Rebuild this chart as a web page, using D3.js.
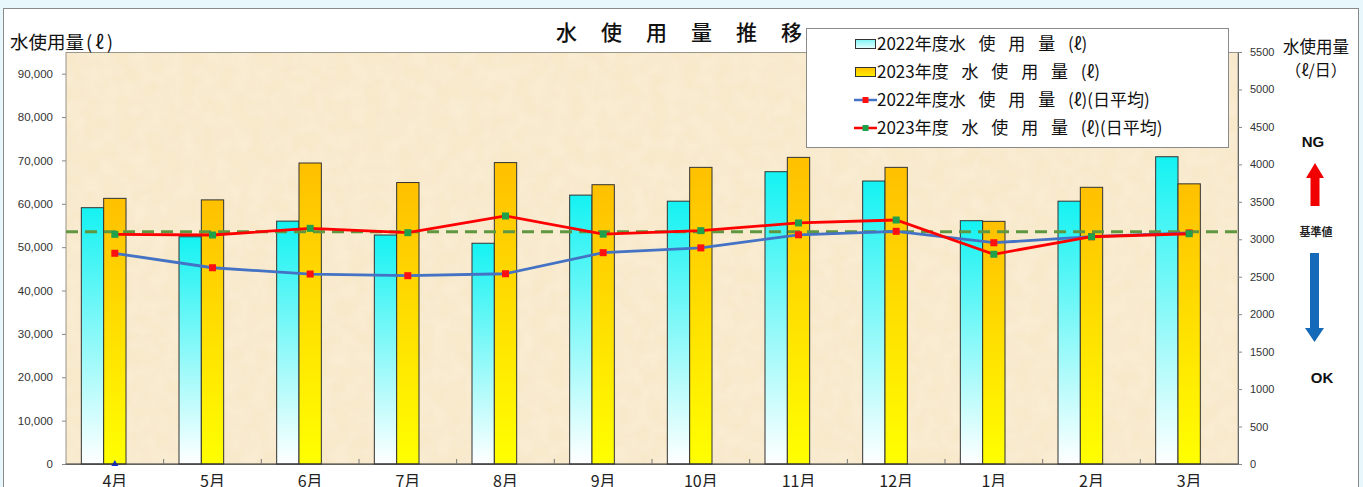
<!DOCTYPE html>
<html><head><meta charset="utf-8">
<script src="https://cdn.jsdelivr.net/npm/d3@7"></script>
<style>
body{margin:0;background:#e8f7fb;}
svg{display:block}
text{font-family:"Noto Sans CJK JP","Noto Sans",sans-serif;}
.num{font-family:"Liberation Sans",Arial,sans-serif;}
</style>
</head><body>
<svg id="c" width="1363" height="487"></svg>
<script>
// ---- data ----
const months = ["4月","5月","6月","7月","8月","9月","10月","11月","12月","1月","2月","3月"];
const usage2022 = [59100,52400,56000,52800,50900,62000,60600,67400,65250,56100,60600,70850];
const usage2023 = [61250,60900,69400,64900,69500,64400,68400,70700,68400,55950,63800,64600];
const daily2022 = [2813,2620,2536,2514,2540,2821,2885,3060,3106,2954,3034,3085];
const daily2023 = [3066,3057,3146,3088,3311,3068,3115,3218,3257,2800,3034,3074];
const baselineValue = 3100;
const zeroMarker = [0,null,null,null,null,null,null,null,null,null,null,null];
const leftTicks = [0,10000,20000,30000,40000,50000,60000,70000,80000,90000];
const rightTicks = [0,500,1000,1500,2000,2500,3000,3500,4000,4500,5000,5500];
const seriesNames = ["2022年度水 使 用 量 (ℓ)","2023年度 水 使 用 量 (ℓ)","2022年度水 使 用 量 (ℓ)(日平均)","2023年度 水 使 用 量 (ℓ)(日平均)"];

const svg = d3.select("#c");
const L=66,R=1238,T=52,B=464;

// outer frame
svg.append("rect").attr("x",3.5).attr("y",8.5).attr("width",1355).attr("height",490)
  .attr("fill","#fff").attr("stroke","#8a8a8a");

const defs = svg.append("defs");
const g1 = defs.append("linearGradient").attr("id","g22").attr("x1",0).attr("y1",0).attr("x2",0).attr("y2",1);
g1.append("stop").attr("offset","0%").attr("stop-color","#14f2f2");
g1.append("stop").attr("offset","100%").attr("stop-color","#ffffff");
const g2 = defs.append("linearGradient").attr("id","g23").attr("x1",0).attr("y1",0).attr("x2",0).attr("y2",1);
g2.append("stop").attr("offset","0%").attr("stop-color","#ffc000");
g2.append("stop").attr("offset","100%").attr("stop-color","#ffff00");
const lg1 = defs.append("linearGradient").attr("id","lg22").attr("x1",0).attr("y1",0).attr("x2",0).attr("y2",1);
lg1.append("stop").attr("offset","0%").attr("stop-color","#7ff4f4");
lg1.append("stop").attr("offset","100%").attr("stop-color","#e8ffff");
const lg2 = defs.append("linearGradient").attr("id","lg23").attr("x1",0).attr("y1",0).attr("x2",0).attr("y2",1);
lg2.append("stop").attr("offset","0%").attr("stop-color","#ffc000");
lg2.append("stop").attr("offset","100%").attr("stop-color","#ffee00");
const f = defs.append("filter").attr("id","tex").attr("x",0).attr("y",0).attr("width","100%").attr("height","100%");
f.append("feTurbulence").attr("type","fractalNoise").attr("baseFrequency","0.06").attr("numOctaves",3).attr("seed",4);
f.append("feColorMatrix").attr("values","0 0 0 0 1  0 0 0 0 1  0 0 0 0 1  0 0 0 -1.6 1.05");

// scales
const x = d3.scaleBand().domain(months).range([L,R]).padding(0);
const bw = x.bandwidth();
const x1 = d3.scaleBand().domain(["a","b","spare"]).range([bw*0.157,bw*0.843]);
const yL = d3.scaleLinear().domain([0,95000]).range([B,T]);
const yR = d3.scaleLinear().domain([0,5500]).range([B,T]);

// plot background
svg.append("rect").attr("x",L).attr("y",T).attr("width",R-L).attr("height",B-T).attr("fill","#f8e9cb");
svg.append("rect").attr("x",L).attr("y",T).attr("width",R-L).attr("height",B-T).attr("filter","url(#tex)").attr("opacity",0.22);
svg.append("rect").attr("x",L).attr("y",T+0.5).attr("width",R-L).attr("height",B-T).attr("fill","none").attr("stroke","#9a948a");

// bars
const bars = svg.append("g");
bars.selectAll(".b22").data(usage2022).join("rect")
  .attr("x",(d,i)=>x(months[i])+x1("a")).attr("y",d=>yL(d))
  .attr("width",x1.bandwidth()).attr("height",d=>B-yL(d))
  .attr("fill","url(#g22)").attr("stroke","#333").attr("stroke-width",1);
bars.selectAll(".b23").data(usage2023).join("rect")
  .attr("x",(d,i)=>x(months[i])+x1("b")).attr("y",d=>yL(d))
  .attr("width",x1.bandwidth()).attr("height",d=>B-yL(d))
  .attr("fill","url(#g23)").attr("stroke","#333").attr("stroke-width",1);

// baseline dashed
svg.append("line").attr("x1",L).attr("x2",R).attr("y1",yR(baselineValue)).attr("y2",yR(baselineValue))
  .attr("stroke","#5f9640").attr("stroke-width",3).attr("stroke-dasharray","12,7");

// lines
const cx = m=>x(m)+bw/2;
const line = d3.line().x((d,i)=>cx(months[i])).y(d=>yR(d));
svg.append("path").attr("d",line(daily2022)).attr("fill","none").attr("stroke","#4472c4").attr("stroke-width",2.8);
svg.selectAll(".m22").data(daily2022).join("rect")
  .attr("x",(d,i)=>cx(months[i])-3.5).attr("y",d=>yR(d)-3.5).attr("width",7).attr("height",7).attr("fill","#ff1010");
svg.append("path").attr("d",line(daily2023)).attr("fill","none").attr("stroke","#ff0000").attr("stroke-width",2.8);
svg.selectAll(".m23").data(daily2023).join("rect")
  .attr("x",(d,i)=>cx(months[i])-3.5).attr("y",d=>yR(d)-3.5).attr("width",7).attr("height",7).attr("fill","#1fa04a");

// zero marker
zeroMarker.forEach((v,i)=>{ if(v===null) return;
  const px=cx(months[i]), py=yR(v);
  svg.append("path").attr("d",`M${px},${py-4}L${px+3.5},${py+2}L${px-3.5},${py+2}Z`).attr("fill","#1030e0");
});

// axes
const ax = svg.append("g").attr("transform",`translate(${L},0)`)
  .call(d3.axisLeft(yL).tickValues(leftTicks).tickFormat(d3.format(",")).tickSize(4).tickPadding(9));
ax.select(".domain").remove();
ax.selectAll("line").attr("stroke","#888");
ax.selectAll("text").attr("class","num").style("font-size","11.5px").attr("fill","#333");

const ar = svg.append("g").attr("transform",`translate(${R},0)`)
  .call(d3.axisRight(yR).tickValues(rightTicks).tickFormat(d3.format("d")).tickSize(4).tickPadding(8));
ar.select(".domain").attr("stroke","#666");
ar.selectAll("line").attr("stroke","#888");
ar.selectAll("text").attr("class","num").style("font-size","11px").attr("fill","#333");

// bottom axis
svg.append("line").attr("x1",L).attr("x2",R).attr("y1",B).attr("y2",B).attr("stroke","#333").attr("stroke-width",1.2);
svg.selectAll(".bt").data(months.slice(1)).join("line")
  .attr("x1",d=>x(d)).attr("x2",d=>x(d)).attr("y1",B).attr("y2",B-5).attr("stroke","#777");
const ab = svg.append("g").attr("transform",`translate(0,${B})`)
  .call(d3.axisBottom(x).tickSize(0).tickPadding(12));
ab.select(".domain").remove();
ab.selectAll("text").style("font-size","16px").attr("fill","#222");

// titles
svg.append("text").attr("x",556).attr("y",40).text("水使用量推移")
  .style("font-size","21px").style("font-weight","500").style("letter-spacing","24px").attr("fill","#111");
const lt = svg.append("text").attr("x",10).attr("y",49).style("font-size","18.5px").attr("fill","#111");
lt.append("tspan").text("水使用量");
lt.append("tspan").attr("dx",2).style("letter-spacing","3px").text("(ℓ)");
svg.append("text").attr("x",1283).attr("y",53).text("水使用量").style("font-size","16.5px").attr("fill","#111");
svg.append("text").attr("x",1316).attr("y",76).attr("text-anchor","middle").text("（ℓ/日）").style("font-size","16px").attr("fill","#111");

// legend
const lgX=806, lgY=28;
svg.append("rect").attr("x",lgX+0.5).attr("y",lgY+0.5).attr("width",422).attr("height",119)
  .attr("fill","#fff").attr("stroke","#8a8a8a");
const rowsY=[44,72,100,128];
seriesNames.forEach((s,i)=>{
  const y=rowsY[i];
  if(i<2){
    svg.append("rect").attr("x",855.5).attr("y",y-4.5).attr("width",20).attr("height",9)
      .attr("fill",i===0?"url(#lg22)":"url(#lg23)").attr("stroke","#333");
  } else {
    svg.append("line").attr("x1",854).attr("x2",877).attr("y1",y).attr("y2",y)
      .attr("stroke",i===2?"#4472c4":"#ff0000").attr("stroke-width",2.5);
    svg.append("rect").attr("x",862.5).attr("y",y-3).attr("width",6).attr("height",6)
      .attr("fill",i===2?"#ff1010":"#1fa04a");
  }
  svg.append("text").attr("x",877).attr("y",y+6).text(s).style("font-size","17px")
    .style("word-spacing","9px").style("white-space","pre").attr("xml:space","preserve").attr("fill","#111");
});

// annotations
svg.append("text").attr("x",1313).attr("y",147).attr("text-anchor","middle").text("NG")
  .attr("class","num").style("font-size","15px").style("font-weight","bold").attr("fill","#111");
svg.append("path").attr("d","M1315,163L1324,178L1319.5,178L1319.5,206L1310.5,206L1310.5,178L1306,178Z").attr("fill","#f00000");
svg.append("text").attr("x",1316).attr("y",236).attr("text-anchor","middle").text("基準値")
  .style("font-size","11px").style("font-weight","bold").attr("fill","#222");
svg.append("path").attr("d","M1310,253L1319,253L1319,328L1324,328L1314.5,342L1305,328L1310,328Z").attr("fill","#1469b8");
svg.append("text").attr("x",1322).attr("y",383).attr("text-anchor","middle").text("OK")
  .attr("class","num").style("font-size","15px").style("font-weight","bold").attr("fill","#111");
</script>
</body></html>
